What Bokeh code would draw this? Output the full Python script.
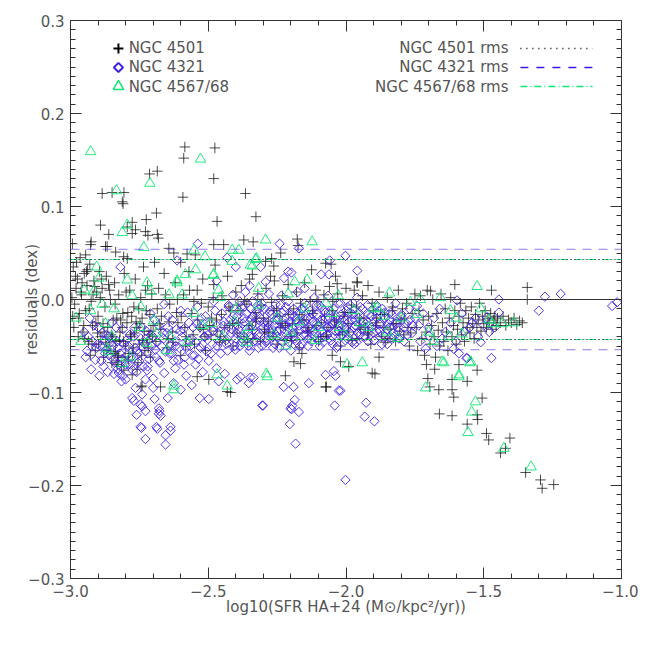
from bokeh.plotting import figure
from bokeh.models import FixedTicker, CustomJSTickFormatter, LinearAxis, Range1d, Span
from bokeh.embed import file_html
from bokeh.resources import INLINE
from bokeh.core.properties import value

# ---------------- data ----------------
series_names = ["NGC 4501", "NGC 4321", "NGC 4567/68"]
rms_names = ["NGC 4501 rms", "NGC 4321 rms", "NGC 4567/68 rms"]
rms_4501 = 0.043
rms_4321 = 0.054
rms_4567 = 0.043

x_ticks = [-3.0, -2.5, -2.0, -1.5, -1.0]
y_ticks = [-0.3, -0.2, -0.1, 0.0, 0.1, 0.2, 0.3]

x_4501 = [
    -2.993, -2.885, -2.849, -2.806, -2.812, -2.809, -2.713, -2.685, -2.585, -2.589,
    -2.476, -2.480, -2.592, -2.365, -2.688, -2.327, -2.725, -2.468, -2.891, -2.861,
    -2.794, -2.764, -2.776, -2.728, -2.685, -2.925, -2.927, -2.873, -2.643, -2.480,
    -2.444, -2.371, -2.337, -2.177, -2.836, -2.794, -2.577, -2.547, -2.270, -2.237,
    -2.475, -2.054, -2.125, -2.174, -2.292, -2.262, -2.074, -2.340, -2.274, -2.038,
    -2.032, -1.960, -2.776, -2.719, -2.681, -2.867, -2.807, -2.625, -2.600, -2.945,
    -2.990, -2.980, -2.985, -2.975, -2.970, -2.965, -2.960, -2.955, -2.950, -2.945,
    -2.940, -2.935, -2.930, -2.925, -2.920, -2.915, -2.910, -2.905, -2.900, -2.895,
    -2.890, -2.885, -2.880, -2.875, -2.870, -2.865, -2.860, -2.855, -2.850, -2.845,
    -2.840, -2.835, -2.830, -2.825, -2.820, -2.815, -2.810, -2.805, -2.800, -2.795,
    -2.790, -2.785, -2.780, -2.775, -2.770, -2.765, -2.760, -2.755, -2.750, -2.745,
    -2.740, -2.735, -2.730, -2.725, -2.720, -2.715, -2.710, -2.705, -2.700, -2.695,
    -2.690, -2.680, -2.670, -2.660, -2.650, -2.640, -2.630, -2.620, -2.610, -2.600,
    -2.590, -2.580, -2.570, -2.560, -2.550, -2.540, -2.530, -2.520, -2.510, -2.500,
    -2.490, -2.480, -2.470, -2.460, -2.450, -2.440, -2.430, -2.420, -2.410, -2.400,
    -2.390, -2.380, -2.370, -2.360, -2.350, -2.340, -2.330, -2.320, -2.310, -2.300,
    -2.290, -2.280, -2.270, -2.260, -2.250, -2.240, -2.230, -2.220, -2.210, -2.200,
    -2.190, -2.180, -2.170, -2.160, -2.150, -2.140, -2.130, -2.120, -2.110, -2.100,
    -2.090, -2.080, -2.070, -2.060, -2.050, -2.040, -2.030, -2.020, -2.010, -2.000,
    -1.990, -1.980, -1.970, -1.960, -1.950, -1.940, -1.930, -1.920, -1.910, -1.900,
    -1.890, -1.880, -1.870, -1.860, -1.850, -1.840, -1.830, -1.820, -1.810, -1.800,
    -1.790, -1.780, -1.770, -1.760, -1.750,
    -1.745, -1.740, -1.735, -1.730, -1.725, -1.720, -1.715, -1.710, -1.705, -1.700,
    -1.695, -1.690, -1.685, -1.680, -1.675, -1.670, -1.665, -1.660, -1.655, -1.650,
    -1.645, -1.640, -1.635, -1.630, -1.625, -1.620, -1.615, -1.610, -1.605, -1.600,
    -1.595, -1.590, -1.585, -1.580, -1.575, -1.570, -1.565, -1.560, -1.555, -1.550,
    -1.545, -1.540, -1.535, -1.530, -1.525, -1.520, -1.515, -1.510, -1.505, -1.500,
    -1.495, -1.490, -1.485, -1.480, -1.475, -1.470, -1.465, -1.460, -1.455, -1.450,
    -1.440, -1.430, -1.420, -1.410, -1.400, -1.390, -1.380, -1.370, -1.360,
    -2.540, -2.673, -2.744, -2.419, -2.074, -2.498, -2.220, -2.189, -2.050, -2.020,
    -1.990, -1.905, -2.160, -2.165, -1.880, -1.895, -2.071, -2.431, -2.837, -2.825,
    -2.831, -2.806, -2.740, -2.776,
    -1.959, -1.605, -1.472, -1.342, -1.342, -1.693, -1.708, -1.678, -1.524, -1.590,
    -1.703, -1.696, -1.663, -1.615, -1.615, -1.609, -1.560, -1.506, -1.661, -1.615,
    -1.524, -1.522, -1.560, -1.490, -1.482, -1.405, -1.439, -1.421, -1.348, -1.294,
    -1.288, -1.246,
    -2.995, -2.988, -2.978, -2.968, -2.958, -2.948, -2.938, -2.928, -2.918, -2.908,
    -2.898, -2.888, -2.878, -2.868, -2.858, -2.848, -2.838, -2.828, -2.818, -2.808,
    -2.798, -2.788, -2.778, -2.768, -2.758, -2.748, -2.738, -2.728, -2.718, -2.708,
    -2.685, -2.672, -2.655, -2.642, -2.628, -2.612, -2.598, -2.585, -2.568, -2.555,
    -2.538, -2.525, -2.512, -2.495, -2.482, -2.468, -2.452, -2.438, -2.425, -2.412,
    -2.395, -2.382, -2.368, -2.352, -2.338, -2.325, -2.308, -2.295, -2.282, -2.265,
    -2.252, -2.238, -2.222, -2.208, -2.195, -2.178, -2.165, -2.152, -2.135, -2.122,
    -2.108, -2.092, -2.078, -2.065, -2.048, -2.035, -2.022, -2.005, -1.992, -1.978,
    -1.962, -1.948, -1.935, -1.918, -1.905, -1.892, -1.875, -1.862, -1.848, -1.832,
    -1.818, -1.805, -1.788, -1.775,
    -2.992, -2.982, -2.972, -2.962, -2.952, -2.942, -2.932, -2.922, -2.912, -2.902,
    -2.892, -2.882, -2.872, -2.862, -2.852, -2.842, -2.832, -2.822, -2.812, -2.802,
    -2.792, -2.782, -2.772, -2.762, -2.752, -2.742, -2.732, -2.722, -2.712, -2.702,
    -2.676, -2.645, -2.615, -2.582, -2.552, -2.518, -2.488, -2.455, -2.422, -2.392,
    -2.358, -2.328, -2.296, -2.262, -2.232, -2.198, -2.168, -2.138, -2.105, -2.072,
    -2.042, -2.012, -1.982, -1.952, -1.922, -1.888, -1.858, -1.828, -1.795, -1.765,
]
y_4501 = [
    0.060, 0.114, 0.115, 0.115, 0.105, 0.103, 0.135, 0.138, 0.164, 0.152,
    0.163, 0.130, 0.110, 0.114, 0.093, 0.089, 0.086, 0.084, 0.080, 0.070,
    0.078, 0.075, 0.071, 0.073, 0.070, 0.062, 0.059, 0.057, 0.055, 0.059,
    0.059, 0.064, 0.062, 0.065, 0.051, 0.044, 0.049, 0.048, 0.044, 0.050,
    0.037, 0.038, 0.032, 0.058, 0.041, 0.036, 0.039, 0.027, 0.025, 0.025,
    0.017, 0.019, 0.083, 0.069, 0.066, 0.057, 0.046, 0.050, 0.040, 0.048,
    0.035, 0.012, -0.005, 0.022, -0.020, 0.045, 0.005, -0.035, 0.028, -0.012,
    0.015, -0.045, 0.038, -0.002, -0.028, 0.020, -0.055, 0.008, -0.018, 0.030,
    -0.040, 0.012, -0.062, -0.008, 0.025, -0.030, -0.050, 0.000, -0.068, -0.022,
    0.018, -0.045, -0.060, 0.005, -0.035, -0.072, -0.015, 0.028, -0.050, -0.025,
    -0.065, 0.010, -0.040, -0.058, -0.008, 0.022, -0.030, -0.068, -0.048, 0.002,
    -0.020, 0.035, -0.055, -0.012, 0.015, -0.038, -0.062, 0.006, -0.028, 0.040,
    -0.045, 0.012, -0.018, 0.028, -0.052, -0.005, -0.035, 0.018, -0.025, -0.060,
    0.005, -0.040, 0.030, -0.015, -0.048, 0.010, -0.030, 0.022, -0.055, -0.008,
    -0.038, 0.016, -0.022, -0.046, 0.004, -0.030, 0.025, -0.012, -0.050, 0.008,
    -0.025, 0.015, -0.040, -0.005, 0.022, -0.032, -0.014, 0.006, -0.045, -0.020,
    0.012, -0.035, -0.003, 0.020, -0.048, -0.018, 0.004, -0.028, 0.016, -0.040,
    -0.010, 0.008, -0.052, -0.022, 0.018, -0.035, -0.002, -0.015, 0.010, -0.045,
    -0.025, 0.005, -0.038, 0.014, -0.012, -0.030, 0.006, -0.050, -0.018, 0.012,
    -0.035, -0.006, 0.010, -0.042, -0.020, 0.004, -0.030, 0.015, -0.048, -0.012,
    -0.025, 0.008, -0.040, -0.016, 0.002, -0.032, -0.008, -0.045, 0.010, -0.022,
    -0.038, -0.004, -0.050, -0.015, 0.006,
    -0.030, -0.055, -0.012, 0.004, -0.042, -0.022, -0.060, -0.035, 0.010, -0.018,
    -0.048, -0.028, 0.000, -0.040, -0.062, -0.015, -0.033, -0.050, 0.006, -0.025,
    -0.045, -0.010, -0.035, -0.055, -0.020, 0.002, -0.040, -0.028, -0.012, -0.048,
    -0.032, -0.018, -0.004, -0.038, -0.025, -0.045, -0.012, -0.030, -0.020, -0.036,
    -0.008, -0.026, -0.042, -0.016, -0.030, -0.022, -0.004, -0.034, -0.018, -0.026,
    -0.012, -0.030, -0.020, -0.025, -0.015, -0.032, -0.022, -0.018, -0.028, -0.020,
    -0.025, -0.018, -0.028, -0.022, -0.025, -0.020, -0.027, -0.023, -0.025,
    -0.083, -0.094, -0.094, -0.100, -0.094, -0.086, -0.082, -0.067, -0.060, -0.067,
    -0.072, -0.079, -0.058, -0.069, -0.062, -0.080, -0.094, -0.099, -0.056, -0.062,
    -0.070, -0.076, -0.093, -0.081,
    0.018, 0.016, 0.010, 0.013, 0.000, 0.009, -0.070, -0.075, -0.076, -0.070,
    -0.085, -0.094, -0.097, -0.086, -0.097, -0.105, -0.088, -0.106, -0.123, -0.125,
    -0.124, -0.129, -0.134, -0.144, -0.151, -0.149, -0.165, -0.160, -0.186, -0.194,
    -0.203, -0.199,
    0.002, -0.030, 0.040, -0.015, 0.018, -0.042, 0.032, -0.060, 0.005, -0.025,
    -0.048, 0.022, -0.035, -0.055, 0.010, -0.040, -0.005, -0.066, -0.022, -0.045,
    0.008, -0.058, -0.018, -0.036, -0.075, -0.026, -0.044, 0.010, -0.052, -0.034,
    -0.010, -0.032, 0.005, -0.024, -0.046, 0.000, -0.018, -0.030, 0.010, -0.038,
    -0.022, -0.004, -0.040, -0.028, 0.002, -0.034, -0.016, -0.044, -0.008, -0.026,
    -0.036, -0.012, -0.002, -0.028, -0.042, -0.020, -0.006, -0.032, -0.024, -0.040,
    -0.010, -0.030, -0.044, -0.016, -0.026, -0.036, -0.004, -0.022, -0.034, -0.012,
    -0.028, -0.040, -0.018, -0.030, -0.002, -0.024, -0.038, -0.014, -0.026, -0.044,
    -0.008, -0.032, -0.020, -0.036, -0.004, -0.028, -0.016, -0.030, -0.042, -0.012,
    -0.026, -0.034, -0.020, -0.030,
    -0.018, 0.025, -0.040, 0.008, -0.028, 0.030, -0.010, -0.048, 0.014, -0.036,
    0.002, -0.026, -0.046, 0.016, -0.038, -0.058, -0.020, -0.044, -0.030, -0.062,
    -0.014, -0.038, -0.052, -0.024, -0.010, -0.060, -0.034, -0.046, -0.016, -0.040,
    -0.026, -0.042, -0.014, -0.050, -0.002, -0.032, -0.020, -0.040, -0.028, -0.006,
    -0.046, -0.024, -0.036, -0.012, -0.026, -0.044, -0.016, -0.030, -0.002, -0.040,
    -0.022, -0.034, -0.014, -0.028, -0.038, -0.020, -0.046, -0.026, -0.010, -0.036,
]

x_4321 = [
    -2.538, -2.241, -2.171, -2.002, -2.059, -2.613, -2.431, -2.400, -1.959, -2.090,
    -2.210, -2.225, -2.310, -2.198, -2.062, -2.292, -2.819, -2.470, -2.350, -2.150,
    -1.278, -1.221, -1.300, -1.034, -1.016, -1.472, -1.563, -1.445, -1.445, -1.597,
    -1.488, -1.542, -1.742, -1.736, -1.711, -1.609, -1.590, -1.560, -1.511, -1.699,
    -1.651,
    -2.873, -2.825, -2.800, -2.764, -2.776, -2.770, -2.740, -2.740, -2.760, -2.742,
    -2.728, -2.685, -2.655, -2.637, -2.655, -2.677, -2.673, -2.695, -2.647, -2.728,
    -2.625, -2.546, -2.498, -2.531, -2.462, -2.395, -2.347, -2.304, -2.226, -2.190,
    -2.135, -2.186, -2.195, -2.198, -2.171, -2.204, -2.183, -2.074, -2.038, -2.026,
    -2.041, -2.002, -2.020, -1.927, -1.932, -1.897, -2.301, -2.201, -2.383, -2.335,
    -2.353, -2.044, -2.746, -2.728, -2.679, -2.679, -2.746, -2.688, -2.637, -2.830,
    -2.810, -2.790, -2.760, -2.720, -2.700, -2.660, -2.620, -2.580, -2.560, -2.520,
    -2.470, -2.440, -2.600, -2.700, -2.845,
    -2.950, -2.940, -2.930, -2.920, -2.910, -2.900, -2.890, -2.880, -2.870, -2.860,
    -2.850, -2.840, -2.830, -2.820, -2.810, -2.800, -2.790, -2.780, -2.770, -2.760,
    -2.750, -2.740, -2.730, -2.720, -2.710, -2.700, -2.690, -2.680, -2.670, -2.660,
    -2.650, -2.640, -2.630, -2.620, -2.610, -2.600, -2.590, -2.580, -2.570, -2.560,
    -2.550, -2.540, -2.530, -2.520, -2.510, -2.500, -2.490, -2.480, -2.470, -2.460,
    -2.450, -2.440, -2.430, -2.420, -2.410, -2.400,
    -2.395, -2.390, -2.385, -2.380, -2.375, -2.370, -2.365, -2.360, -2.355, -2.350,
    -2.345, -2.340, -2.335, -2.330, -2.325, -2.320, -2.315, -2.310, -2.305, -2.300,
    -2.295, -2.290, -2.285, -2.280, -2.275, -2.270, -2.265, -2.260, -2.255, -2.250,
    -2.245, -2.240, -2.235, -2.230, -2.225, -2.220, -2.215, -2.210, -2.205, -2.200,
    -2.195, -2.190, -2.185, -2.180, -2.175, -2.170, -2.165, -2.160, -2.155, -2.150,
    -2.145, -2.140, -2.135, -2.130, -2.125, -2.120, -2.115, -2.110, -2.105, -2.100,
    -2.095, -2.090, -2.085, -2.080, -2.075, -2.070, -2.065, -2.060, -2.055, -2.050,
    -2.045, -2.040, -2.035, -2.030, -2.025, -2.020, -2.015, -2.010, -2.005, -2.000,
    -1.995, -1.990, -1.985, -1.980, -1.975, -1.970, -1.965, -1.960, -1.955, -1.950,
    -1.940, -1.930, -1.920, -1.910, -1.900, -1.890, -1.880, -1.870, -1.860, -1.850,
    -1.840, -1.830, -1.820, -1.810, -1.800, -1.790, -1.780, -1.770, -1.760, -1.750,
    -1.730, -1.720, -1.700, -1.680, -1.670, -1.660, -1.640, -1.620, -1.600, -1.580,
    -1.570, -1.550, -1.530, -1.520, -1.500, -1.480, -1.460,
    -2.945, -2.935, -2.925, -2.915, -2.905, -2.895, -2.885, -2.875, -2.865, -2.855,
    -2.845, -2.835, -2.825, -2.815, -2.805, -2.795, -2.785, -2.775, -2.765, -2.755,
    -2.745, -2.735, -2.725, -2.715, -2.705, -2.695, -2.685, -2.675, -2.665, -2.655,
    -2.645, -2.635, -2.625, -2.615, -2.605, -2.595, -2.585, -2.575, -2.565, -2.555,
    -2.545, -2.535, -2.525, -2.515, -2.505, -2.495, -2.485, -2.475, -2.465, -2.455,
    -2.445, -2.435, -2.425, -2.415, -2.405,
    -2.398, -2.388, -2.378, -2.368, -2.358, -2.348, -2.338, -2.328, -2.318, -2.308,
    -2.298, -2.288, -2.278, -2.268, -2.258, -2.248, -2.238, -2.228, -2.218, -2.208,
    -2.198, -2.188, -2.178, -2.168, -2.158, -2.148, -2.138, -2.128, -2.118, -2.108,
    -2.098, -2.088, -2.078, -2.068, -2.058, -2.048, -2.038, -2.028, -2.018, -2.008,
    -1.998, -1.988, -1.978, -1.968, -1.958, -1.948, -1.938, -1.928, -1.918, -1.908,
    -1.898, -1.888, -1.878, -1.868, -1.858, -1.848, -1.838, -1.828, -1.818, -1.808,
    -1.798, -1.788, -1.778, -1.768, -1.758,
    -2.442, -2.434, -2.426, -2.418, -2.410, -2.402, -2.394, -2.386, -2.378, -2.370,
    -2.362, -2.354, -2.346, -2.338, -2.330, -2.322, -2.314, -2.306, -2.298, -2.290,
    -2.282, -2.274, -2.266, -2.258, -2.250, -2.242, -2.234, -2.226, -2.218, -2.210,
    -2.202, -2.194, -2.186, -2.178, -2.170, -2.162, -2.154, -2.146, -2.138, -2.130,
    -2.122, -2.114, -2.106, -2.098, -2.090, -2.082, -2.074, -2.066, -2.058, -2.050,
    -2.042, -2.034, -2.026, -2.018, -2.010, -2.002, -1.994, -1.986, -1.978, -1.970,
    -1.962, -1.954, -1.946, -1.938, -1.930, -1.922, -1.914, -1.906, -1.898, -1.890,
    -1.882, -1.874, -1.866, -1.858, -1.850, -1.842, -1.834, -1.826, -1.818, -1.810,
    -2.902, -2.888, -2.872, -2.858, -2.842, -2.828, -2.812, -2.798, -2.782, -2.768,
    -2.752, -2.738, -2.722, -2.708, -2.692, -2.678, -2.662, -2.648, -2.632, -2.618,
    -2.602, -2.588, -2.572, -2.558, -2.542, -2.528, -2.512, -2.498, -2.482, -2.468,
]
y_4321 = [
    0.060, 0.060, 0.055, 0.047, 0.042, 0.042, 0.045, 0.035, 0.031, 0.027,
    0.030, 0.023, 0.035, 0.029, 0.027, 0.019, 0.035, 0.020, 0.015, 0.012,
    0.003, 0.006, -0.012, -0.007, -0.003, -0.063, -0.063, 0.000, -0.014, -0.001,
    -0.019, -0.025, -0.007, -0.028, -0.053, -0.053, -0.058, -0.063, -0.046, -0.039,
    -0.042,
    -0.044, -0.079, -0.086, -0.095, -0.106, -0.109, -0.102, -0.115, -0.124, -0.138,
    -0.150, -0.139, -0.146, -0.141, -0.156, -0.120, -0.125, -0.107, -0.106, -0.086,
    -0.090, -0.070, -0.107, -0.106, -0.088, -0.086, -0.084, -0.114, -0.094, -0.094,
    -0.090, -0.108, -0.114, -0.118, -0.121, -0.134, -0.155, -0.081, -0.082, -0.098,
    -0.114, -0.194, -0.098, -0.111, -0.126, -0.131, -0.114, -0.117, -0.083, -0.084,
    -0.090, -0.077, -0.113, -0.120, -0.117, -0.123, -0.137, -0.137, -0.137, -0.075,
    -0.082, -0.070, -0.078, -0.072, -0.085, -0.079, -0.074, -0.082, -0.092, -0.078,
    -0.074, -0.080, -0.097, -0.095, -0.050,
    -0.035, -0.055, -0.020, -0.045, -0.065, -0.030, -0.050, -0.072, -0.038, -0.060,
    -0.025, -0.068, -0.045, -0.058, -0.032, -0.070, -0.050, -0.062, -0.040, -0.055,
    -0.066, -0.030, -0.048, -0.058, -0.015, -0.040, -0.062, -0.028, -0.050, -0.005,
    -0.036, -0.058, -0.022, -0.045, -0.065, -0.012, -0.032, -0.052, -0.025, -0.042,
    -0.060, -0.008, -0.030, -0.048, -0.018, -0.038, -0.058, -0.002, -0.028, -0.045,
    -0.015, -0.035, -0.055, -0.022, 0.005, -0.042,
    -0.018, -0.032, -0.050, -0.008, -0.026, -0.040, 0.008, -0.015, -0.035, -0.055,
    -0.022, -0.002, -0.045, -0.028, -0.012, -0.038, 0.002, -0.020, -0.050, -0.030,
    -0.010, -0.042, -0.025, 0.006, -0.035, -0.016, -0.052, -0.028, -0.005, -0.040,
    -0.020, -0.032, 0.004, -0.046, -0.012, -0.026, -0.038, -0.002, -0.018, -0.055,
    -0.030, -0.010, -0.042, -0.022, 0.008, -0.034, -0.015, -0.048, -0.026, -0.004,
    -0.038, -0.020, -0.030, -0.012, -0.045, -0.024, 0.002, -0.036, -0.016, -0.028,
    -0.050, -0.008, -0.022, -0.040, -0.014, -0.030, 0.004, -0.020, -0.044, -0.026,
    -0.010, -0.034, -0.018, -0.050, -0.028, -0.004, -0.038, -0.020, -0.030, -0.012,
    -0.042, -0.024, -0.006, -0.034, -0.016, -0.048, -0.028, 0.002, -0.020, -0.038,
    -0.010, -0.030, -0.045, -0.018, -0.036, -0.006, -0.026, -0.048, -0.014, -0.032,
    -0.022, -0.042, -0.004, -0.030, -0.018, -0.045, -0.026, -0.010, -0.036, -0.020,
    -0.045, -0.015, -0.030, -0.020, -0.050, -0.010, -0.035, -0.025, -0.045, -0.015,
    -0.035, -0.030, -0.020, -0.040, -0.028, -0.035, -0.030,
    -0.062, -0.040, -0.075, -0.028, -0.052, -0.082, -0.036, -0.058, -0.078, -0.046,
    -0.064, -0.030, -0.070, -0.088, -0.048, -0.060, -0.038, -0.076, -0.052, -0.068,
    -0.042, -0.072, -0.034, -0.064, -0.050, -0.022, -0.046, -0.068, -0.036, -0.056,
    -0.018, -0.048, -0.066, -0.032, -0.052, -0.040, -0.062, -0.014, -0.050, -0.030,
    -0.046, -0.064, -0.020, -0.040, -0.056, -0.026, -0.048, -0.012, -0.036, -0.058,
    -0.028, -0.044, -0.008, -0.032, -0.050,
    -0.036, -0.012, -0.046, -0.024, -0.004, -0.040, -0.018, -0.034, -0.052, -0.008,
    -0.026, -0.044, -0.014, -0.032, -0.048, -0.022, -0.006, -0.040, -0.028, -0.046,
    -0.016, -0.036, -0.024, -0.050, -0.010, -0.032, -0.042, -0.020, -0.034, -0.006,
    -0.044, -0.026, -0.012, -0.038, -0.030, -0.048, -0.020, -0.004, -0.040, -0.024,
    -0.032, -0.014, -0.046, -0.022, -0.036, -0.008, -0.040, -0.026, -0.016, -0.030,
    -0.044, -0.020, -0.034, -0.010, -0.040, -0.026, -0.014, -0.036, -0.024, -0.042,
    -0.016, -0.030, -0.038, -0.022, -0.028,
    -0.024, -0.048, -0.006, -0.036, -0.018, -0.054, -0.028, -0.002, -0.042, -0.020,
    -0.032, -0.050, -0.010, -0.026, -0.044, -0.016, -0.036, -0.004, -0.024, -0.046,
    -0.030, -0.012, -0.040, -0.022, -0.034, -0.052, -0.014, -0.028, -0.008, -0.042,
    -0.024, -0.036, -0.018, -0.046, -0.028, -0.010, -0.038, -0.022, -0.050, -0.032,
    -0.016, -0.040, -0.026, -0.006, -0.034, -0.046, -0.020, -0.030, -0.012, -0.040,
    -0.024, -0.052, -0.034, -0.016, -0.028, -0.044, -0.008, -0.036, -0.022, -0.030,
    -0.046, -0.014, -0.032, -0.024, -0.040, -0.006, -0.028, -0.018, -0.044, -0.034,
    -0.012, -0.026, -0.038, -0.020, -0.048, -0.030, -0.016, -0.040, -0.026, -0.034,
    -0.048, -0.066, -0.054, -0.040, -0.080, -0.052, -0.064, -0.044, -0.070, -0.030,
    -0.058, -0.046, -0.076, -0.038, -0.054, -0.066, -0.042, -0.030, -0.058, -0.050,
    -0.034, -0.070, -0.044, -0.060, -0.026, -0.052, -0.040, -0.066, -0.034, -0.050,
]

x_4567 = [
    -2.927, -2.833, -2.712, -2.528, -2.812, -2.734, -2.552, -2.389, -2.292, -2.123,
    -2.512, -2.413, -2.325, -2.340, -2.546, -2.141, -2.482, -2.613, -2.583, -1.524,
    -2.794, -2.413, -2.328, -2.347, -2.186, -2.317, -2.210, -2.028, -1.842, -1.887,
    -1.766, -2.897, -2.915, -2.885, -2.927, -2.794, -2.722, -2.710, -2.776, -2.873,
    -2.867, -2.812, -2.698, -2.613, -2.595, -2.480, -2.456, -2.468, -2.625, -2.431,
    -2.492, -2.371, -2.637, -2.722, -2.289, -1.996, -1.941, -2.286, -1.711, -1.590,
    -1.645, -1.551, -1.530, -1.544, -1.557, -1.427, -1.328, -1.730, -1.657, -1.621,
    -1.511, -1.469, -1.433, -1.391, -1.579, -1.627, -1.651, -1.547, -1.590, -2.861,
    -2.250, -2.200, -2.150, -2.100, -2.050, -2.000, -1.950, -1.900, -1.850, -1.800,
    -2.350, -2.400, -2.450, -2.550, -2.650, -2.750, -2.850, -2.950, -2.980, -1.700,
    -1.600, -1.480, -2.625,
    -2.962, -2.905, -2.842, -2.782, -2.745, -2.688, -2.642, -2.575, -2.522, -2.462,
    -2.405, -2.362, -2.318, -2.262, -2.218, -2.172, -2.112, -2.072, -2.022, -1.972,
    -1.918, -1.862, -1.812, -1.742, -1.682,
]
y_4567 = [
    0.159, 0.117, 0.125, 0.151, 0.072, 0.056, 0.053, 0.053, 0.064, 0.062,
    0.046, 0.041, 0.044, 0.036, 0.032, 0.021, 0.026, 0.018, 0.027, 0.014,
    0.080, 0.053, 0.043, 0.037, 0.019, 0.012, 0.006, 0.004, 0.007, -0.009,
    -0.003, 0.023, 0.009, -0.005, -0.012, 0.021, 0.018, 0.009, 0.004, -0.026,
    -0.053, -0.069, -0.023, 0.020, 0.005, 0.027, 0.002, -0.081, -0.093, -0.093,
    -0.026, -0.040, -0.040, -0.047, -0.080, -0.070, -0.068, -0.083, -0.095, -0.083,
    -0.068, -0.068, -0.110, -0.121, -0.143, -0.160, -0.180, 0.000, 0.002, -0.012,
    -0.010, -0.026, -0.026, -0.025, -0.037, -0.040, -0.067, -0.067, -0.081, -0.056,
    -0.020, -0.035, -0.010, -0.030, -0.015, -0.040, -0.025, -0.010, -0.035, -0.020,
    -0.030, -0.010, -0.040, -0.015, -0.055, -0.030, -0.040, 0.010, -0.020, -0.035,
    -0.020, -0.022, -0.097,
    -0.045, 0.035, -0.010, -0.062, -0.008, -0.036, 0.005, -0.046, -0.028, 0.010,
    -0.024, -0.046, -0.006, -0.038, -0.050, -0.024, -0.044, -0.004, -0.030, -0.012,
    -0.030, -0.018, -0.042, -0.016, -0.045,
]

# ---------------- styling ----------------
FONT = "DejaVu Sans"
TXT = "#555555"
AX = "#333333"
C_BLACK = "#111111"
C_BLUE = "#4222e2"
C_GREEN = "#10e874"

p = figure(width=638, height=630,
           x_range=Range1d(-3.0, -1.0), y_range=Range1d(-0.3, 0.3),
           output_backend="svg", toolbar_location=None,
           min_border_left=70, min_border_right=17, min_border_top=20, min_border_bottom=52,
           x_axis_label="log10(SFR HA+24 (M\u2299/kpc\u00b2/yr))", y_axis_label="residuals (dex)")
p.grid.visible = False
p.outline_line_color = AX
p.background_fill_color = "white"
p.border_fill_color = "white"

xt = FixedTicker(ticks=x_ticks, minor_ticks=[round(-3.0 + 0.1 * i, 2) for i in range(21)])
yt = FixedTicker(ticks=y_ticks, minor_ticks=[round(-0.3 + 0.01 * i, 3) for i in range(61)])
fmt = CustomJSTickFormatter(code="""
if (Math.abs(tick) < 1e-9) { return '\u22120.0'; }
return (tick < 0 ? '\u2212' : '') + Math.abs(tick).toFixed(1);
""")
blank = CustomJSTickFormatter(code="return '';")

def style(ax, ticker, formatter, show):
    ax.ticker = ticker
    ax.formatter = formatter
    ax.major_tick_in = 11
    ax.major_tick_out = 0
    ax.minor_tick_in = 5
    ax.minor_tick_out = 0
    ax.axis_line_color = AX
    ax.major_tick_line_color = AX
    ax.minor_tick_line_color = AX
    ax.major_label_text_font = FONT
    ax.major_label_text_color = TXT
    ax.axis_label_text_font = FONT
    ax.axis_label_text_color = TXT
    ax.axis_label_text_font_style = "normal"
    ax.axis_label_text_font_size = "15px"
    if show:
        ax.major_label_text_font_size = "15px"
    else:
        ax.major_label_text_font_size = "0px"
        ax.major_label_standoff = 0

style(p.xaxis[0], xt, fmt, True)
style(p.yaxis[0], yt, fmt, True)
p.xaxis[0].major_label_standoff = 6
p.xaxis[0].axis_label_standoff = -2
p.yaxis[0].major_label_standoff = 6
p.yaxis[0].axis_label_standoff = -16

top = LinearAxis()
right = LinearAxis()
style(top, xt, blank, False)
style(right, yt, blank, False)
p.add_layout(top, "above")
p.add_layout(right, "right")

# reference lines
p.add_layout(Span(location=0.0, dimension="width", line_color=AX, line_width=1))
for s in (1, -1):
    p.add_layout(Span(location=s * rms_4321, dimension="width", line_color=C_BLUE,
                      line_alpha=0.6, line_width=1, line_dash="9 7"))
    p.add_layout(Span(location=s * rms_4567, dimension="width", line_color=C_GREEN,
                      line_width=1, line_dash="7 3 1 3"))
    p.add_layout(Span(location=s * rms_4501, dimension="width", line_color=C_BLACK,
                      line_width=1, line_dash="1 3"))

# data
p.scatter(x_4501, y_4501, marker="cross", size=10.5, line_color=C_BLACK, line_alpha=0.75, line_width=1)
p.scatter(x_4321, y_4321, marker="square", angle=0.785398, size=6.6, line_color=C_BLUE,
          line_alpha=0.9, fill_color=None, line_width=1)
p.scatter(x_4567, y_4567, marker="triangle", size=10.5, line_color=C_GREEN,
          line_alpha=0.9, fill_color=None, line_width=1)

# left legend (symbols + names)
leg_y = [0.270, 0.2495, 0.229]
mx = -2.826
tx = -2.789
p.scatter([mx], [leg_y[0]], marker="cross", size=10, line_color="black", line_width=2)
p.scatter([mx], [leg_y[1]], marker="square", angle=0.785398, size=6.5, line_color=C_BLUE,
          fill_color=None, line_width=2)
p.scatter([mx], [leg_y[2]], marker="triangle", size=10.5, line_color=C_GREEN,
          fill_color=None, line_width=1.5)
p.text(x=[tx] * 3, y=leg_y, text=series_names, text_font=value(FONT),
       text_font_size=value("15px"), text_color=TXT, text_baseline="middle", text_align="left")

# right legend (rms names + line samples)
rx = -1.410
lx0, lx1 = -1.367, -1.105
p.text(x=[rx] * 3, y=leg_y, text=rms_names, text_font=value(FONT),
       text_font_size=value("15px"), text_color=TXT, text_baseline="middle", text_align="right")
p.line([lx0, lx1], [leg_y[0]] * 2, line_color="black", line_width=1.5, line_dash="1 5")
p.line([lx0, lx1], [leg_y[1]] * 2, line_color="#3a1ee0", line_width=1.5, line_dash="8 8")
p.line([lx0, lx1], [leg_y[2]] * 2, line_color=C_GREEN, line_width=1.5, line_dash="7 3 1 3")

open("out.html", "w").write(file_html(p, INLINE))
